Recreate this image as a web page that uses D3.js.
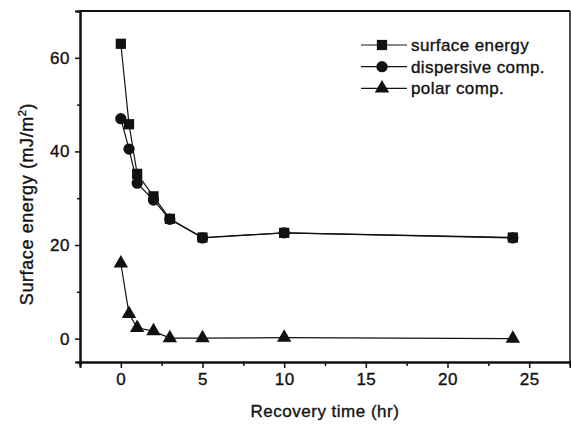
<!DOCTYPE html>
<html>
<head>
<meta charset="utf-8">
<script src="https://cdn.jsdelivr.net/npm/d3@7"></script>
<style>
  html, body { margin: 0; padding: 0; background: #fff; }
  svg { display: block; }
  text { font-family: "Liberation Sans", Arial, sans-serif; fill: #111; stroke: #111; stroke-width: 0.35px; }
</style>
</head>
<body>
<svg id="chart" width="571" height="425"></svg>
<script>
// ---- data ----
const times = [0, 0.5, 1, 2, 3, 5, 10, 24];
const surfaceEnergy = [63, 45.8, 35.2, 30.4, 25.6, 21.6, 22.6, 21.6];
const dispersiveComp = [47, 40.5, 33.2, 29.6, 25.5, 21.5, 22.6, 21.5];
const polarComp = [16.1, 5.3, 2.3, 1.6, 0.1, 0.1, 0.2, 0];
const seriesNames = ["surface energy", "dispersive comp.", "polar comp."];
const xTicks = [0, 5, 10, 15, 20, 25];
const yTicks = [0, 20, 40, 60];
const xTitle = "Recovery time (hr)";
const yTitle = "Surface energy (mJ/m";

// ---- layout ----
const svg = d3.select("#chart");
const pLeft = 80, pRight = 570, pTop = 11, pBottom = 362;
const x = d3.scaleLinear().domain([-2.5, 27.5]).range([pLeft, pRight]);
const y = d3.scaleLinear().domain([-5, 70]).range([pBottom, pTop]);

// frame
svg.append("line").attr("x1", pLeft).attr("x2", pRight).attr("y1", pTop).attr("y2", pTop)
  .attr("stroke", "#111").attr("stroke-width", 2);
svg.append("line").attr("x1", pRight).attr("x2", pRight).attr("y1", pTop).attr("y2", pBottom)
  .attr("stroke", "#111").attr("stroke-width", 1.5);

// axes
const xAxis = d3.axisBottom(x).tickValues(xTicks).tickSize(6).tickPadding(5).tickFormat(d3.format("d"));
const xMinor = d3.axisBottom(x).tickValues(d3.range(-2.5, 27.6, 5)).tickSize(4).tickFormat("");
const yAxis = d3.axisLeft(y).tickValues(yTicks).tickSize(5).tickPadding(5).tickFormat(d3.format("d"));
const yMinor = d3.axisLeft(y).tickValues([-5, 10, 30, 50, 70]).tickSize(3).tickFormat("");

function styleAxis(g) {
  g.select(".domain").attr("stroke", "#111").attr("stroke-width", 2);
  g.selectAll(".tick line").attr("stroke", "#111").attr("stroke-width", 1.5);
  g.selectAll(".tick text").attr("font-family", "Liberation Sans, Arial, sans-serif")
    .attr("font-size", 17).attr("fill", "#111").style("letter-spacing", "0.5px");
}
svg.append("g").attr("transform", `translate(0,${pBottom})`).call(xMinor).call(styleAxis);
svg.append("g").attr("transform", `translate(0,${pBottom})`).call(xAxis).call(styleAxis);
svg.append("g").attr("transform", `translate(${pLeft},0)`).call(yMinor).call(styleAxis);
svg.append("g").attr("transform", `translate(${pLeft},0)`).call(yAxis).call(styleAxis);

// axis titles
svg.append("text").attr("x", (pLeft + pRight) / 2).attr("y", 417)
  .attr("text-anchor", "middle").attr("font-size", 17).style("letter-spacing", "0.5px")
  .text(xTitle);
const yt = svg.append("text").attr("transform", "translate(33,204) rotate(-90)")
  .attr("text-anchor", "middle").attr("font-size", 18).style("letter-spacing", "0.6px");
yt.append("tspan").text(yTitle);
yt.append("tspan").attr("font-size", 11).attr("dy", -7).text("2");
yt.append("tspan").attr("dy", 7).text(")");

// series
const series = [
  { name: seriesNames[0], values: surfaceEnergy, sym: d3.symbolSquare, size: 105 },
  { name: seriesNames[1], values: dispersiveComp, sym: d3.symbolCircle, size: 100 },
  { name: seriesNames[2], values: polarComp, sym: d3.symbolTriangle, size: 90 }
];
const line = d3.line().x(d => x(d[0])).y(d => y(d[1]));

series.forEach(s => {
  const pts = times.map((t, i) => [t, s.values[i]]);
  svg.append("path").attr("d", line(pts)).attr("fill", "none")
    .attr("stroke", "#111").attr("stroke-width", 1.2);
  svg.append("g").selectAll("path").data(pts).join("path")
    .attr("transform", d => `translate(${x(d[0])},${y(d[1])})`)
    .attr("d", d3.symbol().type(s.sym).size(s.size)())
    .attr("fill", "#111");
});

// legend
const legX = 361, legY0 = 45, legDy = 21.7;
series.forEach((s, i) => {
  const ly = legY0 + i * legDy;
  svg.append("line").attr("x1", legX).attr("x2", legX + 46).attr("y1", ly).attr("y2", ly)
    .attr("stroke", "#111").attr("stroke-width", 1.2);
  svg.append("path").attr("transform", `translate(${legX + 21},${ly})`)
    .attr("d", d3.symbol().type(s.sym).size(s.size)()).attr("fill", "#111");
  svg.append("text").attr("x", legX + 50).attr("y", ly + 6)
    .attr("font-size", 17).style("letter-spacing", "0.4px").text(s.name);
});
</script>
</body>
</html>
